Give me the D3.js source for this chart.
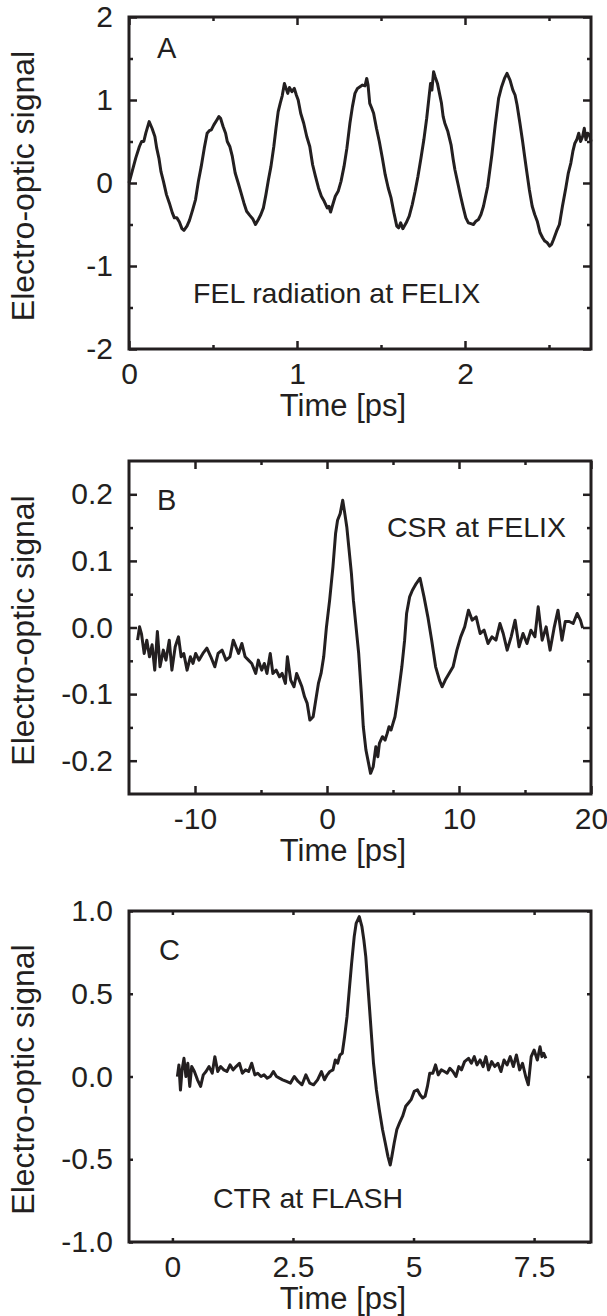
<!DOCTYPE html>
<html>
<head>
<meta charset="utf-8">
<script src="https://cdn.jsdelivr.net/npm/d3@7"></script>
<style>
  body { margin: 0; background: #fff; }
  text { font-family: "Liberation Sans", Arial, sans-serif; fill: #231f20; }
</style>
</head>
<body>
<div id="chart"></div>
<script>
// Panel A: FEL radiation at FELIX
const aTime = [0, 0.02, 0.04, 0.062, 0.075, 0.088, 0.1, 0.12, 0.137, 0.154, 0.165, 0.178, 0.19, 0.205, 0.223, 0.24, 0.258, 0.27, 0.285, 0.3, 0.315, 0.327, 0.345, 0.36, 0.378, 0.396, 0.413, 0.43, 0.448, 0.465, 0.478, 0.49, 0.505, 0.523, 0.535, 0.545, 0.56, 0.575, 0.585, 0.6, 0.615, 0.632, 0.65, 0.667, 0.684, 0.7, 0.719, 0.736, 0.753, 0.77, 0.785, 0.8, 0.815, 0.83, 0.845, 0.862, 0.875, 0.888, 0.9, 0.912, 0.925, 0.935, 0.945, 0.955, 0.97, 0.984, 0.996, 1.007, 1.022, 1.04, 1.058, 1.076, 1.093, 1.11, 1.128, 1.145, 1.162, 1.18, 1.19, 1.2, 1.21, 1.228, 1.245, 1.262, 1.28, 1.297, 1.315, 1.33, 1.345, 1.36, 1.375, 1.39, 1.405, 1.415, 1.423, 1.433, 1.445, 1.456, 1.473, 1.49, 1.508, 1.525, 1.543, 1.56, 1.577, 1.594, 1.605, 1.617, 1.63, 1.65, 1.668, 1.686, 1.703, 1.72, 1.738, 1.755, 1.772, 1.785, 1.795, 1.803, 1.813, 1.822, 1.836, 1.848, 1.86, 1.87, 1.88, 1.898, 1.917, 1.93, 1.94, 1.957, 1.974, 1.99, 2.005, 2.02, 2.035, 2.05, 2.065, 2.08, 2.095, 2.11, 2.135, 2.16, 2.18, 2.2, 2.218, 2.235, 2.25, 2.268, 2.285, 2.298, 2.31, 2.327, 2.343, 2.355, 2.366, 2.383, 2.4, 2.415, 2.43, 2.447, 2.462, 2.475, 2.49, 2.504, 2.515, 2.527, 2.545, 2.562, 2.58, 2.6, 2.615, 2.63, 2.642, 2.654, 2.665, 2.677, 2.688, 2.7, 2.71, 2.72, 2.73, 2.742, 2.75];
const aSignal = [0, 0.15, 0.3, 0.44, 0.5, 0.5, 0.6, 0.74, 0.66, 0.56, 0.42, 0.3, 0.14, 0.02, -0.14, -0.24, -0.36, -0.42, -0.42, -0.47, -0.55, -0.57, -0.52, -0.45, -0.33, -0.2, 0.02, 0.2, 0.42, 0.6, 0.63, 0.64, 0.7, 0.76, 0.8, 0.78, 0.68, 0.6, 0.5, 0.44, 0.32, 0.12, 0, -0.12, -0.24, -0.34, -0.39, -0.43, -0.5, -0.44, -0.38, -0.3, -0.14, 0.04, 0.2, 0.44, 0.66, 0.86, 0.96, 1.05, 1.2, 1.14, 1.08, 1.15, 1.1, 1.14, 1.06, 1, 0.84, 0.72, 0.56, 0.44, 0.22, 0.08, -0.06, -0.16, -0.22, -0.3, -0.28, -0.35, -0.28, -0.16, -0.1, 0.02, 0.2, 0.42, 0.72, 0.92, 1.08, 1.14, 1.16, 1.18, 1.17, 1.26, 1.18, 0.96, 0.9, 0.84, 0.66, 0.5, 0.3, 0.1, -0.06, -0.18, -0.36, -0.52, -0.54, -0.48, -0.55, -0.48, -0.4, -0.26, -0.1, 0.08, 0.3, 0.52, 0.78, 1.02, 1.2, 1.12, 1.34, 1.28, 1.2, 1.08, 0.96, 0.8, 0.72, 0.62, 0.46, 0.28, 0.16, 0, -0.16, -0.3, -0.42, -0.48, -0.49, -0.5, -0.46, -0.44, -0.38, -0.28, -0.04, 0.34, 0.7, 1.02, 1.16, 1.26, 1.32, 1.24, 1.12, 1.06, 0.94, 0.72, 0.5, 0.32, 0.16, -0.08, -0.28, -0.38, -0.46, -0.6, -0.66, -0.7, -0.72, -0.76, -0.74, -0.68, -0.58, -0.5, -0.28, -0.06, 0.12, 0.24, 0.38, 0.48, 0.52, 0.6, 0.5, 0.56, 0.66, 0.52, 0.6, 0.58, 0.5];

// Panel B: CSR at FELIX
const bTime = [-14.35, -14.2, -14.05, -13.85, -13.65, -13.45, -13.25, -13.05, -12.85, -12.65, -12.4, -12.2, -11.95, -11.75, -11.5, -11.25, -11.05, -10.85, -10.6, -10.35, -10.15, -9.95, -9.7, -9.4, -9.1, -8.8, -8.5, -8.25, -7.95, -7.65, -7.35, -7.1, -6.9, -6.7, -6.45, -6.2, -5.95, -5.7, -5.4, -5.2, -4.95, -4.75, -4.55, -4.3, -4.1, -3.85, -3.6, -3.4, -3.15, -3, -2.75, -2.5, -2.3, -2.1, -1.9, -1.7, -1.5, -1.3, -1.05, -0.85, -0.65, -0.45, -0.25, -0.05, 0.2, 0.45, 0.65, 0.8, 1, 1.19, 1.35, 1.5, 1.65, 1.85, 2, 2.2, 2.4, 2.6, 2.75, 2.95, 3.15, 3.3, 3.5, 3.7, 3.85, 3.97, 4.2, 4.4, 4.56, 4.7, 4.85, 5, 5.15, 5.3, 5.44, 5.67, 5.88, 6.03, 6.26, 6.47, 6.76, 7.05, 7.35, 7.64, 7.93, 8.23, 8.52, 8.72, 8.96, 9.25, 9.55, 9.84, 10.13, 10.43, 10.72, 11, 11.3, 11.6, 11.9, 12.2, 12.5, 12.8, 13.1, 13.35, 13.65, 13.95, 14.25, 14.55, 14.85, 15.15, 15.45, 15.75, 16, 16.3, 16.6, 16.9, 17.2, 17.5, 17.8, 18.05, 18.35, 18.65, 18.95, 19.2, 19.37];
const bSignal = [-0.019, 0.001, -0.01, -0.039, -0.019, -0.044, -0.026, -0.064, -0.006, -0.059, -0.034, -0.049, -0.019, -0.064, -0.029, -0.014, -0.044, -0.039, -0.064, -0.044, -0.054, -0.039, -0.049, -0.039, -0.031, -0.044, -0.059, -0.039, -0.034, -0.049, -0.044, -0.019, -0.029, -0.039, -0.024, -0.044, -0.049, -0.054, -0.069, -0.049, -0.064, -0.054, -0.069, -0.039, -0.069, -0.064, -0.074, -0.069, -0.084, -0.044, -0.079, -0.089, -0.069, -0.079, -0.089, -0.104, -0.114, -0.139, -0.134, -0.109, -0.084, -0.069, -0.044, -0.001, 0.041, 0.091, 0.141, 0.161, 0.171, 0.191, 0.171, 0.151, 0.121, 0.081, 0.041, 0.001, -0.039, -0.099, -0.149, -0.184, -0.204, -0.219, -0.209, -0.179, -0.194, -0.174, -0.164, -0.169, -0.159, -0.149, -0.154, -0.144, -0.134, -0.114, -0.094, -0.059, -0.019, 0.021, 0.046, 0.056, 0.066, 0.074, 0.046, 0.016, -0.019, -0.059, -0.079, -0.089, -0.079, -0.069, -0.059, -0.034, -0.014, 0.001, 0.026, 0.011, 0.016, -0.009, -0.004, -0.024, -0.014, -0.019, 0.006, -0.009, -0.034, -0.014, 0.011, -0.029, -0.009, -0.024, -0.004, -0.014, 0.031, -0.019, 0.001, -0.034, -0.001, 0.026, -0.019, 0.009, 0.009, 0.006, 0.021, 0.011, -0.001];

// Panel C: CTR at FLASH
const cTime = [0.103, 0.135, 0.167, 0.2, 0.24, 0.28, 0.32, 0.36, 0.4, 0.456, 0.52, 0.585, 0.64, 0.697, 0.76, 0.826, 0.88, 0.94, 1, 1.066, 1.13, 1.195, 1.26, 1.32, 1.39, 1.45, 1.516, 1.58, 1.644, 1.71, 1.77, 1.837, 1.9, 1.965, 2.03, 2.094, 2.158, 2.22, 2.286, 2.366, 2.447, 2.527, 2.607, 2.687, 2.768, 2.848, 2.928, 3.01, 3.09, 3.153, 3.21, 3.265, 3.33, 3.378, 3.426, 3.474, 3.522, 3.57, 3.62, 3.667, 3.715, 3.77, 3.81, 3.875, 3.93, 3.97, 4.01, 4.05, 4.09, 4.13, 4.17, 4.23, 4.29, 4.357, 4.413, 4.47, 4.517, 4.55, 4.6, 4.654, 4.71, 4.774, 4.838, 4.894, 4.95, 5.015, 5.08, 5.135, 5.19, 5.24, 5.288, 5.336, 5.4, 5.456, 5.512, 5.577, 5.64, 5.697, 5.753, 5.817, 5.88, 5.938, 5.994, 6.058, 6.14, 6.2, 6.26, 6.315, 6.38, 6.443, 6.5, 6.556, 6.62, 6.684, 6.75, 6.813, 6.877, 6.94, 7.005, 7.07, 7.134, 7.2, 7.26, 7.326, 7.38, 7.44, 7.5, 7.567, 7.623, 7.663, 7.7, 7.744];
const cSignal = [-0.001, 0.07, -0.082, 0.04, 0.11, 0, 0.08, -0.06, 0.06, 0.03, -0.02, -0.06, 0.01, 0.03, 0.06, 0.02, 0.12, 0.03, 0.06, 0.04, 0.03, 0.07, 0.04, 0.06, 0.08, 0.02, 0.04, 0.03, 0.08, 0.01, 0.02, 0, 0.01, -0.01, 0, 0.03, 0, -0.01, -0.02, -0.03, -0.04, 0, -0.03, -0.05, 0.01, -0.04, -0.05, -0.02, 0.03, -0.02, 0.01, 0.03, 0.04, 0.1, 0.08, 0.13, 0.14, 0.24, 0.36, 0.52, 0.68, 0.845, 0.925, 0.966, 0.905, 0.825, 0.724, 0.563, 0.402, 0.24, 0.08, -0.08, -0.2, -0.32, -0.4, -0.484, -0.535, -0.484, -0.4, -0.32, -0.28, -0.24, -0.18, -0.16, -0.14, -0.09, -0.08, -0.11, -0.13, -0.12, -0.06, 0.02, 0.02, 0.07, 0.01, 0.04, 0.03, 0.02, 0.05, 0.03, 0, 0.06, 0.04, 0.09, 0.11, 0.08, 0.12, 0.07, 0.1, 0.06, 0.12, 0.04, 0.09, 0.06, 0.08, 0.03, 0.1, 0.07, 0.12, 0.06, 0.13, 0.04, 0.08, 0, -0.05, 0.12, 0.16, 0.1, 0.18, 0.12, 0.14, 0.11];

// Tick values
const aXMajor = [0, 1, 2];
const aXMinor = [0.5, 1.5, 2.5];
const aYMajor = [-2, -1, 0, 1, 2];
const aYMinor = [-1.5, -0.5, 0.5, 1.5];
const bXMajor = [-10, 0, 10, 20];
const bXMinor = [-5, 5, 15];
const bYMajor = [-0.2, -0.1, 0, 0.1, 0.2];
const bYMinor = [-0.15, -0.05, 0.05, 0.15];
const cXMajor = [0, 2.5, 5, 7.5];
const cYMajor = [-1, -0.5, 0, 0.5, 1];

const width = 607, height = 1316;
const ink = "#231f20";
const left = 129, right = 591;

const panels = [
  { time: aTime, signal: aSignal, xDomain: [0, 2.75], yDomain: [-2, 2], top: 17, bottom: 349,
    xMajor: aXMajor, xMinor: aXMinor, yMajor: aYMajor, yMinor: aYMinor,
    xFmt: d => String(d), yFmt: d => String(d), majorLen: 8,
    letter: "A", letterPos: [157, 58], note: "FEL radiation at FELIX", notePos: [193, 303] },
  { time: bTime, signal: bSignal, xDomain: [-15, 20], yDomain: [-0.25, 0.25], top: 461, bottom: 794,
    xMajor: bXMajor, xMinor: bXMinor, yMajor: bYMajor, yMinor: bYMinor,
    xFmt: d => String(d), yFmt: d => d.toFixed(1), majorLen: 8,
    letter: "B", letterPos: [157, 510], note: "CSR at FELIX", notePos: [387, 537] },
  { time: cTime, signal: cSignal, xDomain: [-0.9, 8.68], yDomain: [-1, 1], top: 911, bottom: 1242,
    xMajor: cXMajor, xMinor: [], yMajor: cYMajor, yMinor: [],
    xFmt: d => String(d), yFmt: d => d.toFixed(1), majorLen: 4,
    letter: "C", letterPos: [159, 960], note: "CTR at FLASH", notePos: [213, 1208] }
];

const svg = d3.select("#chart").append("svg")
  .attr("width", width)
  .attr("height", height)
  .style("background", "#fff");

panels.forEach(p => {
  const x = d3.scaleLinear().domain(p.xDomain).range([left, right]);
  const y = d3.scaleLinear().domain(p.yDomain).range([p.bottom, p.top]);
  const g = svg.append("g");

  // inward ticks on all four sides, labels only bottom/left
  function ticks(axisFn, scale, values, len, pos, fmt, pad) {
    const ax = axisFn(scale).tickValues(values).tickSizeInner(-len).tickSizeOuter(0)
      .tickPadding(pad || 0)
      .tickFormat(fmt || "");
    const a = g.append("g").attr("transform", pos).call(ax);
    a.select(".domain").remove();
    a.selectAll("line").attr("stroke", ink).attr("stroke-width", 2.5);
    a.selectAll("text").attr("fill", ink).style("font-size", "30px")
      .attr("font-family", "Liberation Sans, Arial, sans-serif");
    return a;
  }

  const bot = `translate(0,${p.bottom})`, tp = `translate(0,${p.top})`;
  const lf = `translate(${left},0)`, rt = `translate(${right},0)`;
  ticks(d3.axisBottom, x, p.xMajor, p.majorLen, bot, p.xFmt, 14);
  ticks(d3.axisTop, x, p.xMajor, p.majorLen, tp);
  ticks(d3.axisBottom, x, p.xMinor, 4, bot);
  ticks(d3.axisTop, x, p.xMinor, 4, tp);
  ticks(d3.axisLeft, y, p.yMajor, p.majorLen, lf, p.yFmt, 16);
  ticks(d3.axisRight, y, p.yMajor, p.majorLen, rt);
  ticks(d3.axisLeft, y, p.yMinor, 4, lf);
  ticks(d3.axisRight, y, p.yMinor, 4, rt);

  const pts = p.time.map((t, i) => [t, p.signal[i]]);
  g.append("path")
    .datum(pts)
    .attr("fill", "none")
    .attr("stroke", ink)
    .attr("stroke-width", 3)
    .attr("stroke-linejoin", "round")
    .attr("d", d3.line().x(d => x(d[0])).y(d => y(d[1])));

  // frame
  g.append("rect")
    .attr("x", left).attr("y", p.top)
    .attr("width", right - left).attr("height", p.bottom - p.top)
    .attr("fill", "none").attr("stroke", ink).attr("stroke-width", 3);

  g.append("text").attr("x", p.letterPos[0]).attr("y", p.letterPos[1])
    .style("font-size", "29px").text(p.letter);
  g.append("text").attr("x", p.notePos[0]).attr("y", p.notePos[1])
    .style("font-size", "28.5px").text(p.note);

  g.append("text")
    .attr("x", 343).attr("y", p.bottom + 67)
    .attr("text-anchor", "middle")
    .style("font-size", "31px")
    .text("Time [ps]");

  g.append("text")
    .attr("transform", `translate(34,${(p.top + p.bottom) / 2 + 3}) rotate(-90)`)
    .attr("text-anchor", "middle")
    .style("font-size", "32px")
    .text("Electro-optic signal");
});
</script>
</body>
</html>
